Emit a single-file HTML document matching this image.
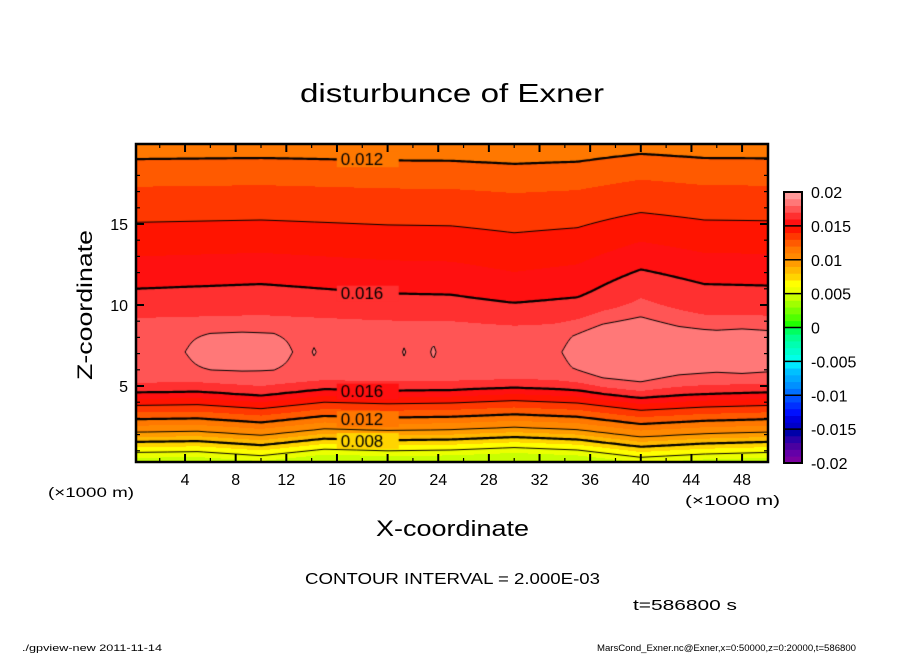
<!DOCTYPE html>
<html><head><meta charset="utf-8"><style>
body{margin:0;background:#fff;width:904px;height:654px;overflow:hidden;position:relative;font-family:"Liberation Sans",sans-serif}
#plot{position:absolute;left:136px;top:144px}
#ov{position:absolute;left:0;top:0}
</style></head><body>
<canvas id="plot" width="632" height="318"></canvas>
<svg id="ov" width="904" height="654" font-family="Liberation Sans, sans-serif">
<text x="300" y="102" font-size="26" textLength="304" lengthAdjust="spacingAndGlyphs">disturbunce of Exner</text>
<text transform="translate(92,305) rotate(-90)" font-size="21" text-anchor="middle" textLength="150" lengthAdjust="spacingAndGlyphs">Z-coordinate</text>
<text x="376" y="536" font-size="22" textLength="153" lengthAdjust="spacingAndGlyphs">X-coordinate</text>
<text x="48" y="497" font-size="14" textLength="86" lengthAdjust="spacingAndGlyphs">(×1000 m)</text>
<text x="685" y="505" font-size="14" textLength="95" lengthAdjust="spacingAndGlyphs">(×1000 m)</text>
<text x="305" y="584" font-size="16" textLength="295" lengthAdjust="spacingAndGlyphs">CONTOUR INTERVAL = 2.000E-03</text>
<text x="633" y="610" font-size="15" textLength="104" lengthAdjust="spacingAndGlyphs">t=586800 s</text>
<text x="22" y="651" font-size="9" textLength="140" lengthAdjust="spacingAndGlyphs">./gpview-new   2011-11-14</text>
<text x="597" y="651" font-size="9" textLength="259" lengthAdjust="spacingAndGlyphs">MarsCond_Exner.nc@Exner,x=0:50000,z=0:20000,t=586800</text>
<g id="axes"></g>
<g id="cbar"></g>
</svg>
<script>
// ---- data ----
const zProf = [0.3, 0.9, 1.55, 2.15, 2.95, 3.8, 4.6, 5.2, 6.0, 7.1, 8.3, 9.2, 11.0, 13.0, 15.1, 17.3, 19.0, 20.0];
const vProf = [0.0042, 0.006, 0.008, 0.010, 0.012, 0.014, 0.016, 0.017, 0.0176, 0.0178, 0.0176, 0.017, 0.016, 0.015, 0.014, 0.013, 0.012, 0.0115];
const dispX = [0, 5, 10, 15, 20, 25, 30, 35, 40, 45, 50];
const dispUpper = [0, 0.15, 0.3, 0, -0.3, -0.4, -1.1, -0.6, 1.4, 0.3, 0.2];
const dispLower = [0, 0.05, -0.2, 0.2, 0.1, 0.15, 0.3, 0.15, -0.3, -0.1, 0];
const bumpX = [0, 3, 4.5, 6, 8.5, 11, 12.5, 13.4, 14.2, 15, 18, 18.7, 19.5, 20.7, 21.3, 22, 23, 23.6, 24.3, 27, 30, 33, 34.5, 37, 40, 43, 46, 48, 50];
const bumpA = [0, 0, 0.0003, 0.0006, 0.0007, 0.0006, 0.0002, 0, 0.00025, 0, 0, 0.0002, 0, 0, 0.00025, 0, 0, 0.0003, 0, -0.0001, -0.0002, 0, 0.0004, 0.001, 0.00115, 0.0008, 0.0007, 0.0008, 0.0007];
const bumpW = [1.4, 1.4, 1.4, 1.4, 1.4, 1.4, 1.2, 1, 1, 1, 1, 1, 1, 1, 1, 1, 1, 1, 1, 1, 1, 1.5, 1.8, 2.2, 2.3, 1.8, 1.6, 1.7, 1.6];
const levelColors = ['#7a00a0','#6400a8','#4a00a0','#2a00a8','#0000a8','#0000c8','#0000e0','#0010ff','#0030ff','#0050ff',
 '#0070ff','#0090ff','#00a8ff','#00c0ff','#00e8ff','#00ffe8','#00ffcc','#00ffb0','#00ff90','#00ff60',
 '#20ff00','#50ff00','#78ff00','#a0ff00','#c8ff00','#ecff00','#ffff00','#ffd400','#ffb800','#ff9c00',
 '#ff8800','#ff7800','#ff5a00','#ff3800','#ff1400','#ff1010','#ff3030','#ff5555','#ff7878','#ff9a9a'];
const cbarLabels = ['0.02','0.015','0.01','0.005','0','-0.005','-0.01','-0.015','-0.02'];
const cbarValues = [0.02,0.015,0.01,0.005,0,-0.005,-0.01,-0.015,-0.02];
const xTicks = [4,8,12,16,20,24,28,32,36,40,44,48];
const zTicks = [5,10,15];
const contourLevels = [0.004,0.006,0.008,0.010,0.012,0.014,0.016,0.018];
const labelDefs = [[16.3,19.0,'0.012'],[16.3,10.7,'0.016'],[16.3,4.65,'0.016'],[16.3,2.95,'0.012'],[16.3,1.6,'0.008']];

// ---- axes ----
const X0=134.4, KX=12.66, Z0=467, KZ=16.2, L=136, R=768, T=144, B=462;
const px = x => X0 + KX*x;
const pz = z => Z0 - KZ*z;
function interp(xs, ys, x){
  if(x<=xs[0]) return ys[0];
  for(let i=1;i<xs.length;i++) if(x<=xs[i]){const t=(x-xs[i-1])/(xs[i]-xs[i-1]);return ys[i-1]+t*(ys[i]-ys[i-1]);}
  return ys[ys.length-1];
}
function wU(z){ if(z<=7) return 0; if(z<=11) return (z-7)/4; if(z<=16) return 1-0.6*(z-11)/5; return 0.4-0.2*Math.min(1,(z-16)/4); }
function wL(z){ if(z<=5) return 1; if(z>=7) return 0; return (7-z)/2; }
function val(x,z){
  const d = interp(dispX,dispUpper,x)*wU(z) + interp(dispX,dispLower,x)*wL(z);
  let v = interp(zProf,vProf,z-d);
  const A = interp(bumpX,bumpA,x), w = interp(bumpX,bumpW,x);
  const dz=(z-7.1)/w;
  v += A*Math.exp(-dz*dz*dz*dz);
  return v;
}
function colorOf(v){ let i=Math.floor((v+0.02)/0.001); i=Math.max(0,Math.min(39,i)); return levelColors[i]; }

// ---- fill ----
const cv=document.getElementById('plot'), ctx=cv.getContext('2d');
const W=cv.width, H=cv.height;
for(let j=0;j<H;j++){
  const z=(Z0-(T+j+0.5))/KZ;
  let prev=null, start=0;
  for(let i=0;i<=W;i++){
    let c=null;
    if(i<W){ const x=(L+i+0.5-X0)/KX; c=colorOf(val(x,z)); }
    if(c!==prev){ if(prev){ctx.fillStyle=prev;ctx.fillRect(start,j,i-start,1);} prev=c; start=i; }
  }
}
// ---- contour lines (marching squares) ----
const S=2, NX=Math.ceil(W/S)+1, NZ=Math.ceil(H/S)+1;
const g=[];
for(let j=0;j<NZ;j++){g.push([]);for(let i=0;i<NX;i++){const x=(L+i*S-X0)/KX, z=(Z0-(T+j*S))/KZ; g[j].push(val(x,z));}}
contourLevels.forEach(lv=>{
  const thick = Math.abs(Math.round(lv/0.004)*0.004-lv)<1e-6;
  ctx.strokeStyle='#000'; ctx.lineWidth=thick?2.2:1; ctx.beginPath();
  for(let j=0;j<NZ-1;j++)for(let i=0;i<NX-1;i++){
    const a=g[j][i],b=g[j][i+1],c=g[j+1][i+1],d=g[j+1][i];
    const pts=[];
    const e=(v1,v2,x1,y1,x2,y2)=>{ if((v1<lv)!==(v2<lv)){const t=(lv-v1)/(v2-v1);pts.push([x1+t*(x2-x1),y1+t*(y2-y1)]);} };
    const x0=i*S,y0=j*S;
    e(a,b,x0,y0,x0+S,y0); e(b,c,x0+S,y0,x0+S,y0+S); e(d,c,x0,y0+S,x0+S,y0+S); e(a,d,x0,y0,x0,y0+S);
    for(let k=0;k+1<pts.length;k+=2){ctx.moveTo(pts[k][0],pts[k][1]);ctx.lineTo(pts[k+1][0],pts[k+1][1]);}
  }
  ctx.stroke();
});
// labels
ctx.font='17px "Liberation Sans", sans-serif'; ctx.textBaseline='middle';
labelDefs.forEach(([x,z,t])=>{
  const cx=px(x)-L, cy=pz(z)-T;
  ctx.fillStyle=colorOf(val(x,z)); ctx.fillRect(cx-4,cy-8,62,16);
  ctx.fillStyle='#000'; ctx.fillText(t,cx,cy+1);
});

// ---- svg axes ----
const NS='http://www.w3.org/2000/svg';
function mk(tag,attrs,parent,name,text){const el=document.createElementNS(NS,tag);for(const k in attrs)el.setAttribute(k,attrs[k]);
  
  
  if(text!==undefined)el.textContent=text;parent.appendChild(el);return el;}
const ax=document.getElementById('axes');
mk('rect',{x:L,y:T,width:R-L,height:B-T,fill:'none',stroke:'#000','stroke-width':2.5},ax,'plot-frame');
for(let x=2;x<50;x+=2){
  const major=x%4===0, len=major?8:4;
  mk('line',{x1:px(x),y1:B,x2:px(x),y2:B-len,stroke:'#000','stroke-width':major?2:1.2},ax,'x-tick');
  mk('line',{x1:px(x),y1:T,x2:px(x),y2:T+len,stroke:'#000','stroke-width':major?2:1.2},ax,'x-tick-top');
}
xTicks.forEach(x=>mk('text',{x:px(x),y:485,'font-size':16,'text-anchor':'middle'},ax,'x-tick-label',String(x)));
for(let z=1;z<20;z++){
  const major=z%5===0, len=major?8:4;
  mk('line',{x1:L,y1:pz(z),x2:L+len,y2:pz(z),stroke:'#000','stroke-width':major?2:1.2},ax,'z-tick');
  mk('line',{x1:R,y1:pz(z),x2:R-len,y2:pz(z),stroke:'#000','stroke-width':major?2:1.2},ax,'z-tick-right');
}
zTicks.forEach(z=>mk('text',{x:128,y:pz(z)+6,'font-size':16,'text-anchor':'end'},ax,'z-tick-label',String(z)));

// ---- colorbar ----
const cb=document.getElementById('cbar');
const CT=192, CBt=463, CL=784, CW=18, step=(CBt-CT)/40;
levelColors.forEach((c,i)=>{
  mk('rect',{x:CL,y:CBt-(i+1)*step,width:CW,height:step+0.4,fill:c},cb,'colorbar-swatch');
});
for(let k=0;k<=8;k++) mk('line',{x1:CL,x2:CL+CW,y1:CT+k*step*5,y2:CT+k*step*5,stroke:'#000','stroke-width':1.5},cb,'colorbar-divider');
mk('rect',{x:CL,y:CT,width:CW,height:CBt-CT,fill:'none',stroke:'#000','stroke-width':2},cb,'colorbar-frame');
cbarLabels.forEach((t,i)=>{
  const y=CBt-(cbarValues[i]+0.02)/0.04*(CBt-CT);
  mk('text',{x:811,y:y+6,'font-size':16},cb,'colorbar-label',t);
});
</script>
</body></html>
